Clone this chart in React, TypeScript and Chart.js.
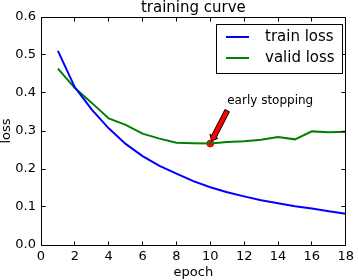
import { useEffect, useRef } from 'react';
import { Chart, registerables } from 'chart.js';

Chart.register(...registerables);

const epochs = [1, 2, 3, 4, 5, 6, 7, 8, 9, 10, 11, 12, 13, 14, 15, 16, 17, 18];
const trainLoss = [0.511, 0.415, 0.356, 0.307, 0.266, 0.234, 0.208, 0.188, 0.168, 0.152, 0.139, 0.128, 0.118, 0.110, 0.102, 0.096, 0.089, 0.082];
const validLoss = [0.464, 0.413, 0.374, 0.333, 0.316, 0.293, 0.280, 0.269, 0.268, 0.267, 0.271, 0.273, 0.277, 0.284, 0.278, 0.299, 0.297, 0.298];
const stopEpoch = 10;
const xTicks = [0, 2, 4, 6, 8, 10, 12, 14, 16, 18];
const yTicks = [0, 0.1, 0.2, 0.3, 0.4, 0.5, 0.6];
const seriesLabels = ['train loss', 'valid loss'];
const seriesColors = ['#0000ff', '#008000'];
const titleText = 'training curve';
const xLabel = 'epoch';
const yLabel = 'loss';
const annotText = 'early stopping';
const annotAt = { x: 11.0, y: 0.38 };

const FONT = '"DejaVu Sans", sans-serif';

const decor = {
  id: 'decor',
  afterDatasetsDraw(chart: any) {
    const { ctx, chartArea: a, scales } = chart;
    const x = scales.x;
    const y = scales.y;
    ctx.save();
    // frame
    const L = Math.floor(a.left) + 0.5;
    const R = Math.floor(a.right) + 0.5;
    const T = Math.floor(a.top) + 0.5;
    const B = Math.floor(a.bottom) + 0.5;
    ctx.strokeStyle = '#000';
    ctx.lineWidth = 1;
    ctx.beginPath();
    ctx.rect(L, T, R - L, B - T);
    ctx.stroke();
    // inward ticks
    ctx.beginPath();
    xTicks.forEach((v) => {
      const px = Math.floor(x.getPixelForValue(v)) + 0.5;
      ctx.moveTo(px, B);
      ctx.lineTo(px, B - 4);
      ctx.moveTo(px, T);
      ctx.lineTo(px, T + 4);
    });
    yTicks.forEach((v) => {
      const py = Math.floor(y.getPixelForValue(v)) + 0.5;
      ctx.moveTo(L, py);
      ctx.lineTo(L + 4, py);
      ctx.moveTo(R, py);
      ctx.lineTo(R - 4, py);
    });
    ctx.stroke();

    // annotation arrow
    const tx = x.getPixelForValue(annotAt.x);
    const ty = y.getPixelForValue(annotAt.y);
    const dx0 = x.getPixelForValue(stopEpoch);
    const dy0 = y.getPixelForValue(validLoss[epochs.indexOf(stopEpoch)]);
    const tail = { x: tx, y: ty + 10 };
    let ux = dx0 - tail.x;
    let uy = dy0 - tail.y;
    const len = Math.hypot(ux, uy);
    ux /= len;
    uy /= len;
    const tip = { x: dx0 - ux * 3, y: dy0 - uy * 3 };
    const nx = -uy;
    const ny = ux;
    const w = 5;
    const hw = 9;
    const hl = 5;
    const hb = { x: tip.x - ux * hl, y: tip.y - uy * hl };
    ctx.beginPath();
    ctx.moveTo(tail.x + nx * w / 2, tail.y + ny * w / 2);
    ctx.lineTo(hb.x + nx * w / 2, hb.y + ny * w / 2);
    ctx.lineTo(hb.x + nx * hw / 2, hb.y + ny * hw / 2);
    ctx.lineTo(tip.x, tip.y);
    ctx.lineTo(hb.x - nx * hw / 2, hb.y - ny * hw / 2);
    ctx.lineTo(hb.x - nx * w / 2, hb.y - ny * w / 2);
    ctx.lineTo(tail.x - nx * w / 2, tail.y - ny * w / 2);
    ctx.closePath();
    ctx.fillStyle = '#ff0000';
    ctx.fill();
    ctx.strokeStyle = '#000';
    ctx.lineWidth = 1;
    ctx.stroke();

    ctx.fillStyle = '#000';
    ctx.font = `12px ${FONT}`;
    ctx.textAlign = 'left';
    ctx.textBaseline = 'middle';
    ctx.fillText(annotText, tx, ty);

    // title
    ctx.font = `15px ${FONT}`;
    ctx.textAlign = 'center';
    ctx.textBaseline = 'alphabetic';
    ctx.fillText(titleText, (a.left + a.right) / 2, 12);

    // axis labels
    ctx.font = `13px ${FONT}`;
    ctx.fillText(xLabel, (a.left + a.right) / 2, 276);
    ctx.save();
    ctx.translate(10, (a.top + a.bottom) / 2);
    ctx.rotate(-Math.PI / 2);
    ctx.fillText(yLabel, 0, 0);
    ctx.restore();

    // legend
    ctx.fillStyle = '#fff';
    ctx.fillRect(216.5, 24.5, 126, 49);
    ctx.strokeStyle = '#000';
    ctx.lineWidth = 1;
    ctx.strokeRect(216.5, 24.5, 126, 49);
    const rows = [37, 58];
    ctx.font = `15px ${FONT}`;
    ctx.textAlign = 'left';
    ctx.textBaseline = 'middle';
    seriesLabels.forEach((lab, i) => {
      ctx.strokeStyle = seriesColors[i];
      ctx.lineWidth = 2;
      ctx.beginPath();
      ctx.moveTo(226, rows[i]);
      ctx.lineTo(249, rows[i]);
      ctx.stroke();
      ctx.fillStyle = '#000';
      ctx.fillText(lab, 265, rows[i]);
    });
    ctx.restore();
  },
};

export default function App() {
  const ref = useRef<HTMLCanvasElement | null>(null);
  useEffect(() => {
    if (!ref.current) return;
    const stopIdx = epochs.indexOf(stopEpoch);
    const chart = new Chart(ref.current, {
      type: 'line',
      data: {
        datasets: [
          {
            label: seriesLabels[0],
            data: epochs.map((e, i) => ({ x: e, y: trainLoss[i] })),
            borderColor: seriesColors[0],
            backgroundColor: seriesColors[0],
            borderWidth: 2,
            pointRadius: 0,
            tension: 0,
          },
          {
            label: seriesLabels[1],
            data: epochs.map((e, i) => ({ x: e, y: validLoss[i] })),
            borderColor: seriesColors[1],
            backgroundColor: seriesColors[1],
            borderWidth: 2,
            pointRadius: 0,
            tension: 0,
          },
          {
            label: 'stop',
            data: [{ x: stopEpoch, y: validLoss[stopIdx] }],
            borderColor: '#ff0000',
            backgroundColor: '#ff0000',
            pointRadius: 3.5,
            showLine: false,
          },
        ],
      },
      options: {
        animation: false,
        responsive: true,
        maintainAspectRatio: false,
        layout: { padding: { top: 17, right: 9, left: 0, bottom: 0 } },
        plugins: {
          legend: { display: false },
          title: { display: false },
          tooltip: { enabled: false },
        },
        scales: {
          x: {
            type: 'linear',
            min: 0,
            max: 18,
            afterBuildTicks: (s: any) => {
              s.ticks = xTicks.map((v) => ({ value: v }));
            },
            afterFit: (s: any) => {
              s.height = 35;
            },
            grid: { display: false, drawTicks: false },
            border: { display: false },
            ticks: {
              color: '#000',
              font: { family: FONT, size: 13 },
              padding: 4,
              maxRotation: 0,
              autoSkip: false,
              callback: (v: any) => String(v),
            },
          },
          y: {
            type: 'linear',
            min: 0,
            max: 0.6,
            afterBuildTicks: (s: any) => {
              s.ticks = yTicks.map((v) => ({ value: v }));
            },
            afterFit: (s: any) => {
              s.width = 41;
            },
            grid: { display: false, drawTicks: false },
            border: { display: false },
            ticks: {
              color: '#000',
              font: { family: FONT, size: 13 },
              padding: 5,
              autoSkip: false,
              callback: (v: any) => Number(v).toFixed(1),
            },
          },
        },
      },
      plugins: [decor],
    });
    return () => chart.destroy();
  }, []);
  return (
    <div style={{ position: 'absolute', left: 0, top: 0, width: 358, height: 280, background: '#fff' }}>
      <canvas ref={ref} />
    </div>
  );
}
